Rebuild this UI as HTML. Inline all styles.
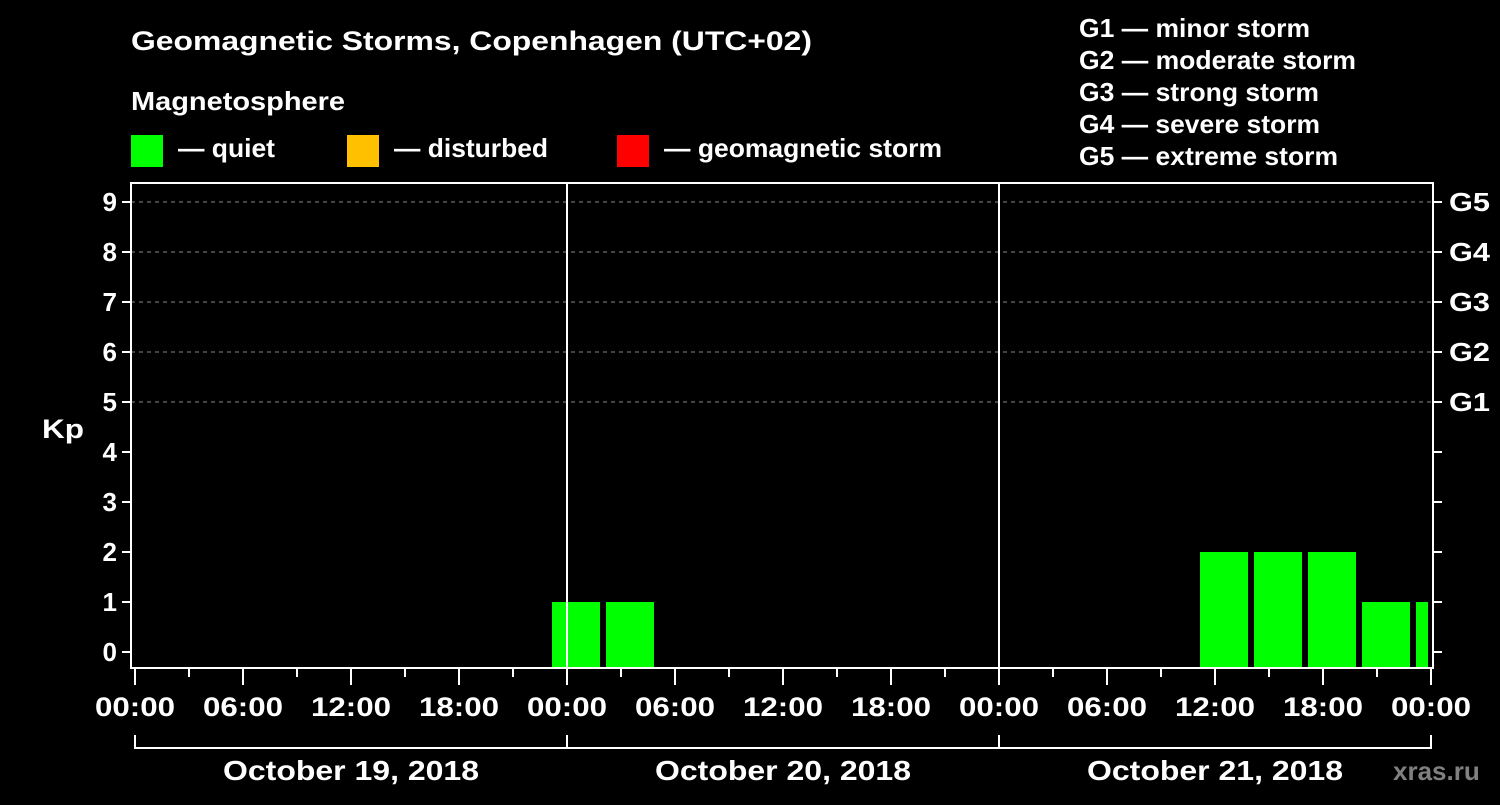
<!DOCTYPE html>
<html><head><meta charset="utf-8"><style>
body{margin:0;background:#000;width:1500px;height:800px;overflow:hidden}
svg text{font-family:"Liberation Sans",Arial,sans-serif;font-weight:bold;fill:#fff}
</style></head><body>
<svg id="c" width="1500" height="800" xmlns="http://www.w3.org/2000/svg">
<text x="131" y="50" font-size="27" textLength="681" lengthAdjust="spacingAndGlyphs">Geomagnetic Storms, Copenhagen (UTC+02)</text>
<text x="131" y="110" font-size="26" textLength="214" lengthAdjust="spacingAndGlyphs">Magnetosphere</text>
<rect x="131" y="135" width="32" height="32" fill="#00ff00"/>
<text x="178" y="157" font-size="26" textLength="97" lengthAdjust="spacingAndGlyphs">— quiet</text>
<rect x="347" y="135" width="32" height="32" fill="#ffc000"/>
<text x="394" y="157" font-size="26" textLength="154" lengthAdjust="spacingAndGlyphs">— disturbed</text>
<rect x="617" y="135" width="32" height="32" fill="#ff0000"/>
<text x="664" y="157" font-size="26" textLength="278" lengthAdjust="spacingAndGlyphs">— geomagnetic storm</text>
<g font-size="26">
<text x="1079" y="37" textLength="231" lengthAdjust="spacingAndGlyphs">G1 — minor storm</text>
<text x="1079" y="69" textLength="277" lengthAdjust="spacingAndGlyphs">G2 — moderate storm</text>
<text x="1079" y="101" textLength="240" lengthAdjust="spacingAndGlyphs">G3 — strong storm</text>
<text x="1079" y="133" textLength="241" lengthAdjust="spacingAndGlyphs">G4 — severe storm</text>
<text x="1079" y="165" textLength="259" lengthAdjust="spacingAndGlyphs">G5 — extreme storm</text>
</g>
<text x="42" y="438" font-size="27" textLength="42" lengthAdjust="spacingAndGlyphs">Kp</text>
<text x="1393" y="780" font-size="26" style="fill:#808080">xras.ru</text>
<g id="plot"></g>
</svg>
<script>
const kpValues=[0,0,0,0,0,0,0,0,1,1,0,0,0,0,0,0,0,0,0,0,2,2,2,1,1];
const blockStartHour=-1;
const yTicks=[0,1,2,3,4,5,6,7,8,9];
const gLabels=["G1","G2","G3","G4","G5"];
const xTickLabels=["00:00","06:00","12:00","18:00","00:00","06:00","12:00","18:00","00:00","06:00","12:00","18:00","00:00"];
const dayLabels=["October 19, 2018","October 20, 2018","October 21, 2018"];
const L=131,R=1433,T=183,B=668,X0=135,PXH=18;
const xs=h=>X0+h*PXH;
const ys=k=>652-k*50;
const NS="http://www.w3.org/2000/svg";
const g=document.getElementById('plot');
function mk(t,a,p){const e=document.createElementNS(NS,t);for(const k in a)e.setAttribute(k,a[k]);(p||g).appendChild(e);return e;}
[5,6,7,8,9].forEach(k=>{const e=mk('line',{x1:L,x2:R,y1:ys(k),y2:ys(k),stroke:'#888','stroke-dasharray':'4,4','stroke-width':1});

});
kpValues.forEach((v,i)=>{if(v<=0)return;const h0=blockStartHour+i*3;let x1=xs(h0)+3,x2=xs(h0+3)-3;x1=Math.max(x1,L+2);x2=Math.min(x2,R-5);if(x2<=x1)return;
const col=v>=5?'#ff0000':(v>=4?'#ffc000':'#00ff00');
const r=mk('rect',{x:x1,y:ys(v),width:x2-x1,height:B-ys(v),fill:col});

});
[1,2].forEach(d=>{const e=mk('line',{x1:xs(d*24),x2:xs(d*24),y1:T,y2:B,stroke:'#fff','stroke-width':2});

});
const f=mk('rect',{x:L,y:T,width:R-L,height:B-T,fill:'none',stroke:'#fff','stroke-width':2});


yTicks.forEach(k=>{mk('line',{x1:L-9,x2:L,y1:ys(k),y2:ys(k),stroke:'#fff','stroke-width':2});mk('line',{x1:R,x2:R+9,y1:ys(k),y2:ys(k),stroke:'#fff','stroke-width':2});
const t=mk('text',{x:L-14,y:ys(k)+9,'text-anchor':'end','font-size':26});t.textContent=k;

});
gLabels.forEach((s,i)=>{const t=mk('text',{x:R+16,y:ys(5+i)+9,'font-size':26,textLength:41,lengthAdjust:'spacingAndGlyphs'});t.textContent=s;

});
for(let h=0;h<=72;h+=3){const major=h%6===0;mk('line',{x1:xs(h),x2:xs(h),y1:B,y2:B+(major?17:9),stroke:'#fff','stroke-width':2});}
xTickLabels.forEach((s,i)=>{const t=mk('text',{x:xs(i*6)-40,y:716,'font-size':27,textLength:80,lengthAdjust:'spacingAndGlyphs'});t.textContent=s;

});
mk('line',{x1:xs(0),x2:xs(72),y1:748,y2:748,stroke:'#fff','stroke-width':2});
[0,24,48,72].forEach(h=>mk('line',{x1:xs(h),x2:xs(h),y1:735,y2:749,stroke:'#fff','stroke-width':2}));
dayLabels.forEach((s,i)=>{const t=mk('text',{x:xs(i*24+12)-128,y:780,'font-size':28,textLength:256,lengthAdjust:'spacingAndGlyphs'});t.textContent=s;

});
</script>
</body></html>
